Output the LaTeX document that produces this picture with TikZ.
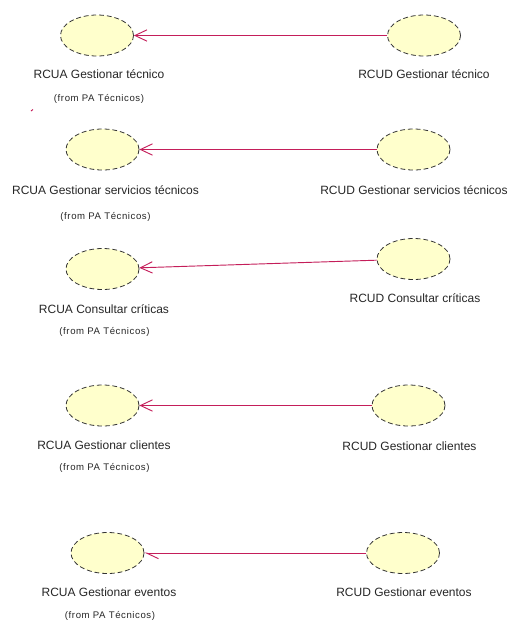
\documentclass[tikz,border=0pt]{standalone}
\usepackage{fontspec}
\setmainfont{Liberation Sans}
\usetikzlibrary{arrows.meta,shapes.geometric}
\definecolor{ucfill}{RGB}{255,255,204}
\definecolor{deplink}{RGB}{196,30,90}

\tikzset{
  usecase/.style={ellipse, draw=black!80, fill=ucfill, line width=0.6pt,
    dash pattern=on 3.6pt off 2.2pt, minimum width=54.75pt, minimum height=30.75pt, inner sep=0pt},
  ucname/.style={inner sep=0pt, font=\fontsize{9}{10}\selectfont, text=black!85},
  fromname/.style={inner sep=0pt, font=\fontsize{7.2}{8}\selectfont\addfontfeature{LetterSpace=6}, text=black!85},
  dep/.style={draw=deplink, line width=0.7pt, -{Straight Barb[length=9pt,width=8.5pt]}}
}

\begin{document}
\begin{tikzpicture}[x=0.75pt,y=-0.75pt]
\useasboundingbox (0,0) rectangle (516,622);

\node [usecase] (a1) at (97,35.5) {};
\node [usecase] (d1) at (424,35.5) {};
\node [ucname] (la1) at (99,74) {RCUA Gestionar técnico};
\node [fromname] (fa1) at (99,99) {(from PA Técnicos)};
\node [ucname] (ld1) at (424,74) {RCUD Gestionar técnico};
\draw [dep] (d1) -- (a1);
\draw [draw=deplink, line width=0.7pt] (31,111) -- (33,109.5);

\node [usecase] (a2) at (102.5,149.5) {};
\node [usecase] (d2) at (413.5,149.5) {};
\node [ucname] (la2) at (105.5,190) {RCUA Gestionar servicios técnicos};
\node [fromname] (fa2) at (105.5,217) {(from PA Técnicos)};
\node [ucname] (ld2) at (414,190) {RCUD Gestionar servicios técnicos};
\draw [dep] (d2) -- (a2);

\node [usecase] (a3) at (102.5,269) {};
\node [usecase] (d3) at (413.5,259) {};
\node [ucname] (la3) at (104,309) {RCUA Consultar críticas};
\node [fromname] (fa3) at (104.5,332) {(from PA Técnicos)};
\node [ucname] (ld3) at (415,298) {RCUD Consultar críticas};
\draw [dep] (d3) -- (a3);

\node [usecase] (a4) at (102.5,405.5) {};
\node [usecase] (d4) at (408.5,405.5) {};
\node [ucname] (la4) at (104,445) {RCUA Gestionar clientes};
\node [fromname] (fa4) at (104.5,468) {(from PA Técnicos)};
\node [ucname] (ld4) at (409.5,446) {RCUD Gestionar clientes};
\draw [dep] (d4) -- (a4);

\node [usecase] (a5) at (107.5,553) {};
\node [usecase] (d5) at (403,553) {};
\node [ucname] (la5) at (109,592) {RCUA Gestionar eventos};
\node [fromname] (fa5) at (110,616) {(from PA Técnicos)};
\node [ucname] (ld5) at (404,592) {RCUD Gestionar eventos};
\draw [draw=deplink, line width=0.7pt, -{Straight Barb[length=9pt,width=8.5pt,left]}] (d5) -- (a5);
\end{tikzpicture}
\end{document}
